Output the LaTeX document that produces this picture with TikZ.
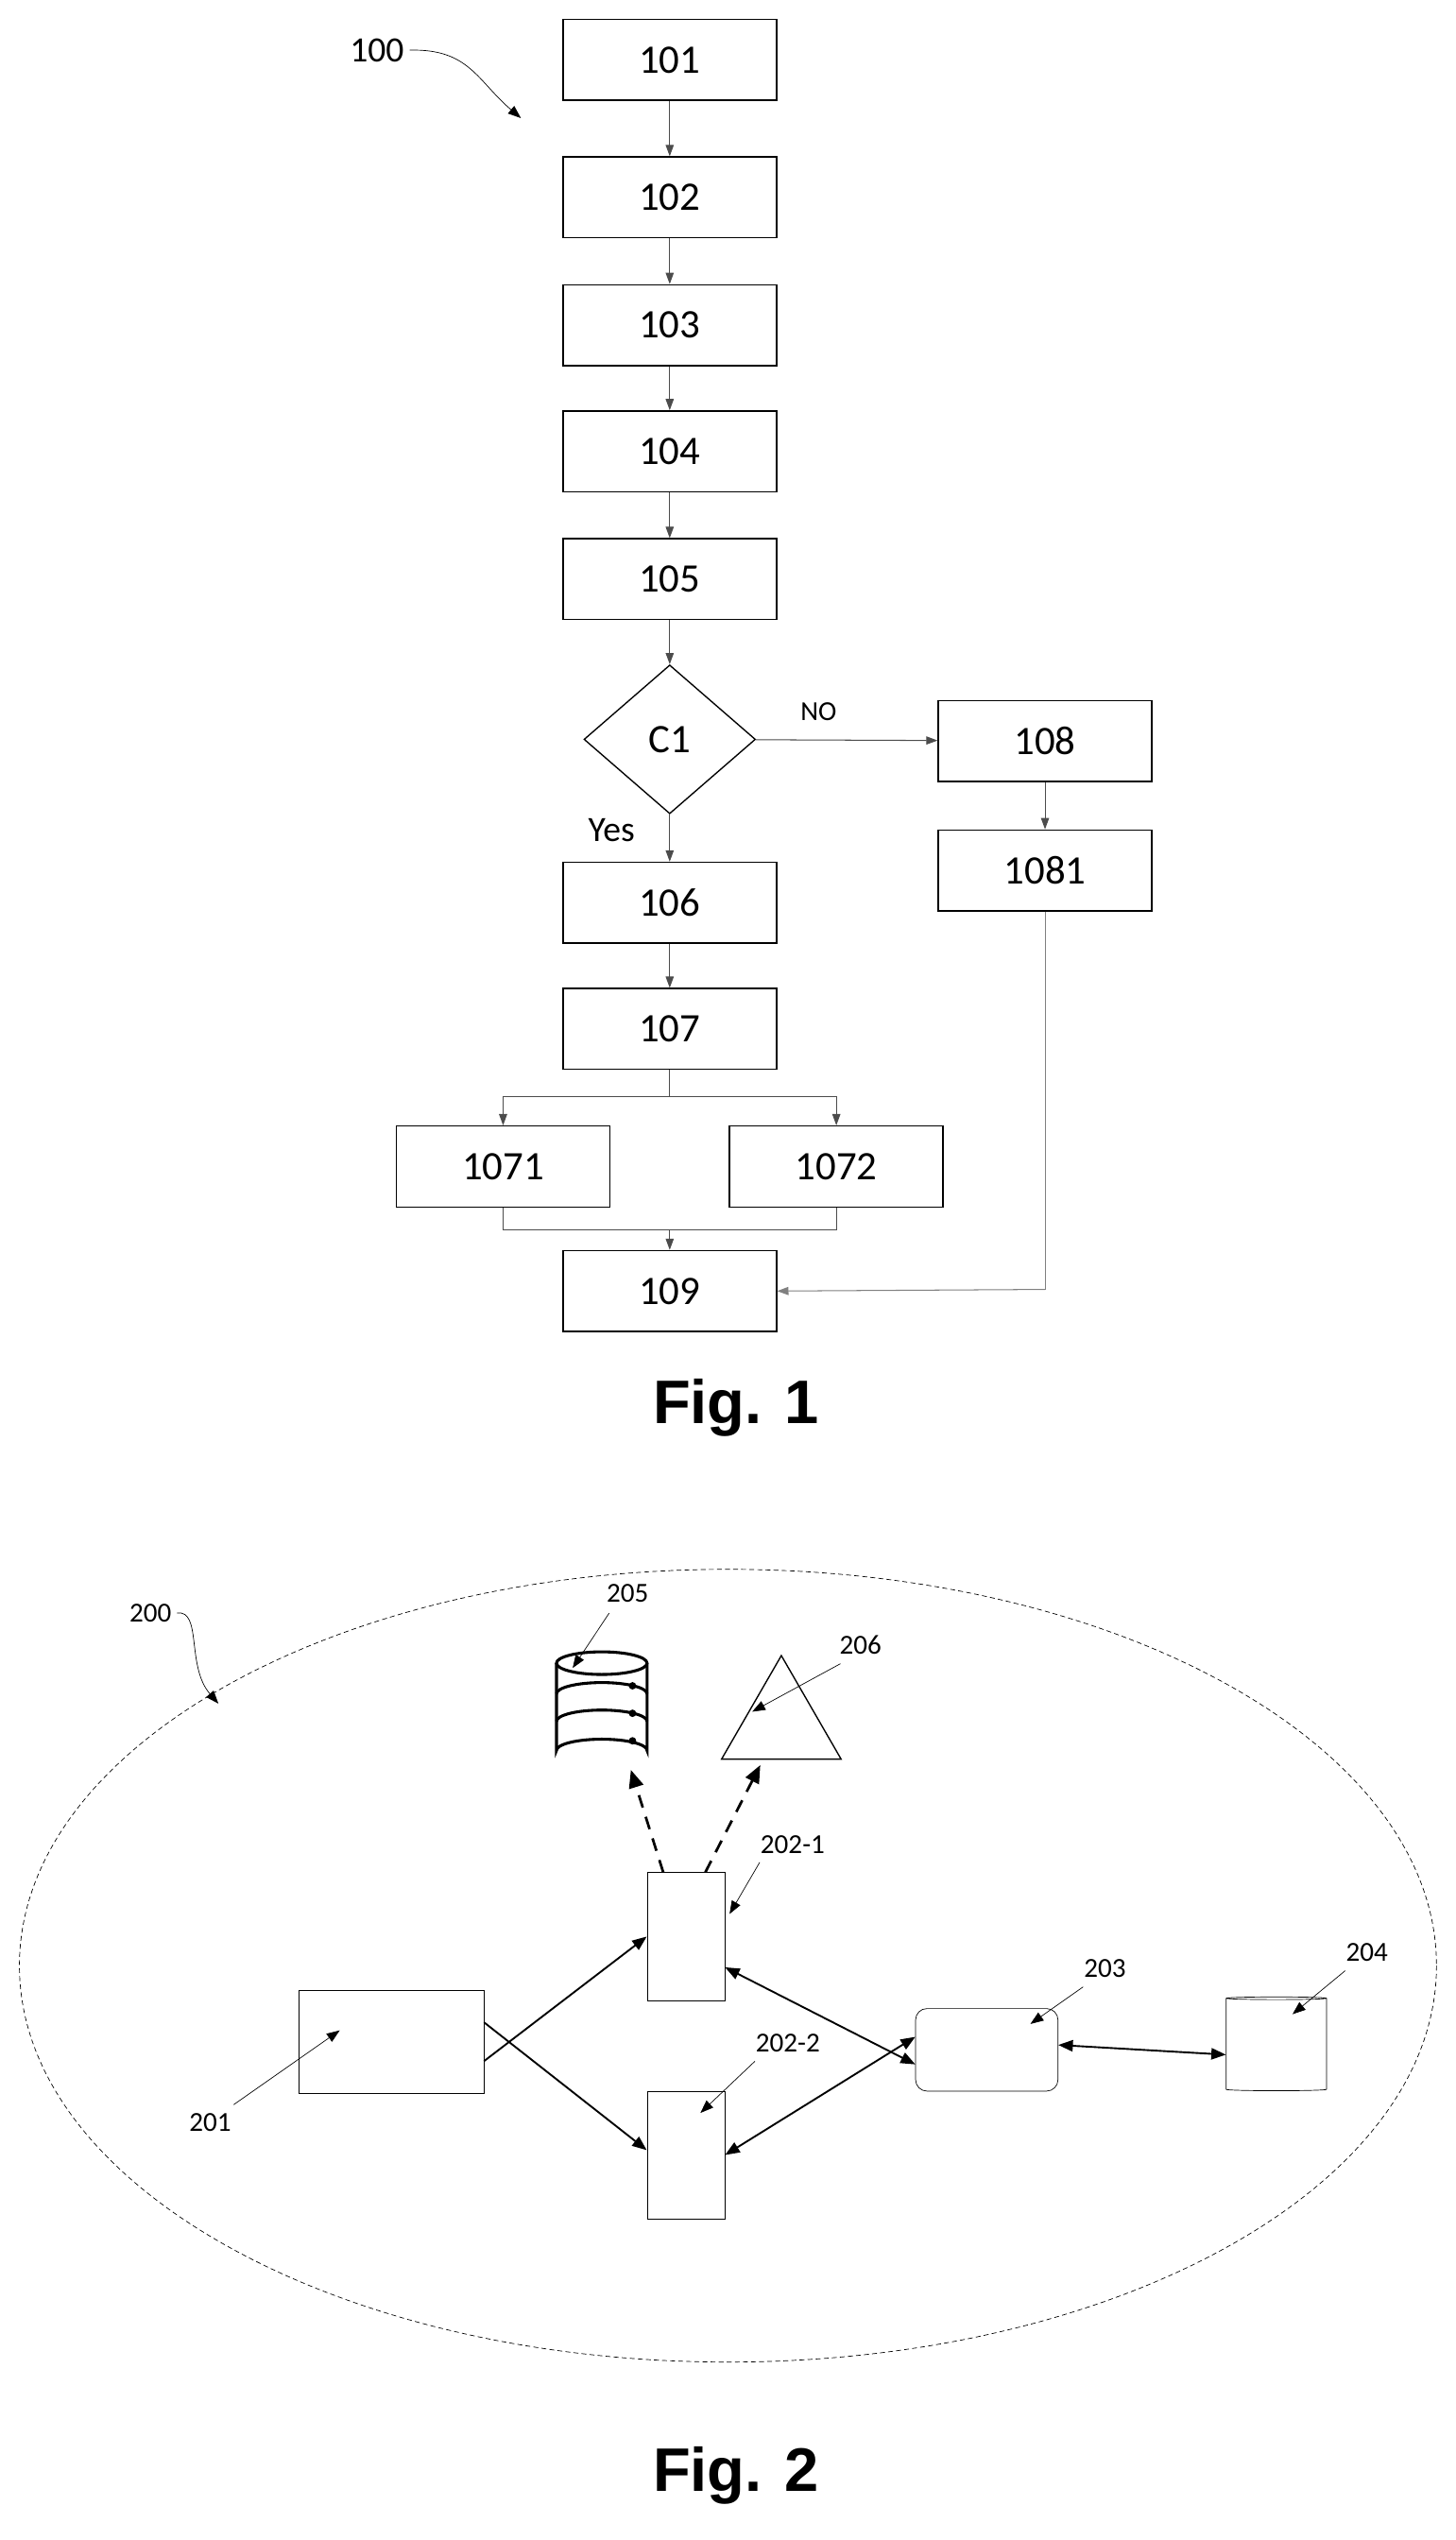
\documentclass[tikz,border=0pt]{standalone}
\usepackage{fontspec}
\setmainfont{Carlito}
\newfontfamily\figfont{Liberation Sans}
\usetikzlibrary{arrows.meta,shapes.geometric,decorations.pathmorphing}
\begin{document}
\begin{tikzpicture}[x=1pt,y=-1pt,
 box/.style={draw,thick,minimum width=132pt,minimum height=50pt,inner sep=0pt,font=\fontsize{25}{25}\selectfont},
 ln/.style={draw=black!70,line width=0.6pt,-{Triangle[length=7pt,width=5pt]}},
 lab/.style={font=\fontsize{22}{22}\selectfont},
 slab/.style={font=\fontsize{17}{17}\selectfont},
 pt/.style={thin,-{Triangle[length=8pt,width=6pt]}},
 ar/.style={line width=1.1pt,-{Triangle[length=9pt,width=7pt]}},
 darr/.style={line width=1.6pt,dash pattern=on 8pt off 6pt,-{Triangle[length=11pt,width=9pt]}},
 fig/.style={font=\figfont\bfseries\fontsize{38}{38}\selectfont}]
\useasboundingbox (0,0) rectangle (900,1570);
% Fig 1
\node[box] (b101) at (414,37) {101};
\node[box] (b102) at (414,122) {102};
\node[box] (b103) at (414,201) {103};
\node[box] (b104) at (414,279) {104};
\node[box] (b105) at (414,358) {105};
\node[draw,thick,diamond,minimum width=106pt,minimum height=92pt,inner sep=0pt,font=\fontsize{25}{25}\selectfont] (c1) at (414,457) {C1};
\node[box] (b108) at (646,458) {108};
\node[box] (b1081) at (646,538) {1081};
\node[box] (b106) at (414,558) {106};
\node[box] (b107) at (414,636) {107};
\node[box] (b1071) at (311,721) {1071};
\node[box] (b1072) at (517,721) {1072};
\node[box] (b109) at (414,798) {109};
\foreach \a/\b in {b101/b102,b102/b103,b103/b104,b104/b105,b105/c1,c1/b106,b106/b107,b108/b1081}
  \draw[ln] (\a) -- (\b);
\draw[ln] (c1) -- (b108);
\node[slab] (no) at (506,440) {NO};
\node[lab] (yes) at (378,513) {Yes};
\coordinate (s1) at (414,678);
\draw[draw=black!70,line width=0.6pt] (b107.south) -- (s1);
\draw[ln] (s1) -| (b1071.north);
\draw[ln] (s1) -| (b1072.north);
\coordinate (j1) at (414,760);
\draw[draw=black!70,line width=0.6pt] (b1071.south) |- (j1) -| (b1072.south);
\draw[ln] (j1) -- (b109.north);
\coordinate (r1) at (646,797);
\draw[draw=black!50,line width=0.6pt] (b1081.south) -- (r1);
\draw[ln,draw=black!50] (r1) -- (b109.east);
\node[lab] (l100) at (233,31) {100};
\coordinate (t100) at (322,73);
\draw[pt] (l100.east) .. controls (290,30) and (295,50) .. (t100);
\node[fig] (f1) at (455,870) {Fig. 1};
% Fig 2
\draw[dash pattern=on 3pt off 2pt,thin] (450,1215) ellipse [x radius=438, y radius=245];
\node[slab] (l200) at (93,997) {200};
\coordinate (t200) at (135,1053);
\draw[pt] (l200.east) .. controls (125,995) and (115,1030) .. (t200);
% database 205
\begin{scope}[line width=1.8pt]
\draw (344,1028) -- (344,1082) arc[start angle=180,end angle=360,x radius=28,y radius=7] -- (400,1028);
\draw (372,1028) ellipse [x radius=28,y radius=7];
\draw (344,1047) arc[start angle=180,end angle=360,x radius=28,y radius=7];
\draw (344,1064) arc[start angle=180,end angle=360,x radius=28,y radius=7];
\fill (391,1042) circle (2.3) (391,1059) circle (2.3) (391,1076) circle (2.3);
\end{scope}
\coordinate (db) at (372,1055);
\node[slab] (l205) at (388,985) {205};
\draw[pt] (l205.south west) ++(5,3) -- (354,1031);
\node[draw,thick,isosceles triangle,isosceles triangle apex angle=60,shape border rotate=90,minimum height=64pt,inner sep=0pt] (tri) at (483,1066) {};
\node[slab] (l206) at (532,1017) {206};
\draw[pt] (l206.south west) ++(4,2) -- (465,1058);
\node[draw,thin,minimum width=48pt,minimum height=79pt] (r1a) at (424,1197) {};
\node[draw,thin,minimum width=48pt,minimum height=79pt] (r2a) at (424,1332) {};
\node[draw,thin,minimum width=114pt,minimum height=64pt] (r201) at (242,1262) {};
\node[draw,thin,rounded corners=7pt,minimum width=88pt,minimum height=51pt] (r203) at (610,1267) {};
\node[draw,thin,cylinder,shape border rotate=90,aspect=0.25,minimum width=62pt,minimum height=58pt] (r204) at (789,1264) {};
\node[slab] (l2021) at (490,1140) {202-1};
\draw[pt] (l2021.south west) ++(3,2) -- (451,1183);
\node[slab] (l2022) at (487,1263) {202-2};
\draw[pt] (l2022.south west) ++(3,2) -- (433,1306);
\node[slab] (l201) at (130,1312) {201};
\draw[pt] (l201.north east) ++(-2,-2) -- (210,1255);
\node[slab] (l203) at (683,1217) {203};
\draw[pt] (l203.south west) ++(3,2) -- (637,1251);
\node[slab] (l204) at (845,1207) {204};
\draw[pt] (l204.south west) ++(3,2) -- (799,1245);
\draw[ar] ([yshift=-12pt]r201.east) -- ([yshift=0pt]r1a.west);
\draw[ar] ([yshift=12pt]r201.east) -- ([yshift=3pt]r2a.west);
\draw[ar,{Triangle[length=9pt,width=7pt]}-{Triangle[length=9pt,width=7pt]}] ([yshift=-19pt]r1a.east) -- ([yshift=-9pt]r203.west);
\draw[ar,{Triangle[length=9pt,width=7pt]}-{Triangle[length=9pt,width=7pt]}] ([yshift=0pt]r2a.east) -- ([yshift=8pt]r203.west);
\draw[ar,{Triangle[length=9pt,width=7pt]}-{Triangle[length=9pt,width=7pt]}] ([yshift=3pt]r203.east) -- (r204.west|-{0,1270});
\draw[darr] ([xshift=-14pt]r1a.north) -- (390,1094);
\draw[darr] ([xshift=12pt]r1a.north) -- (470,1091);
\node[fig] (f2) at (455,1530) {Fig. 2};
\end{tikzpicture}
\end{document}
